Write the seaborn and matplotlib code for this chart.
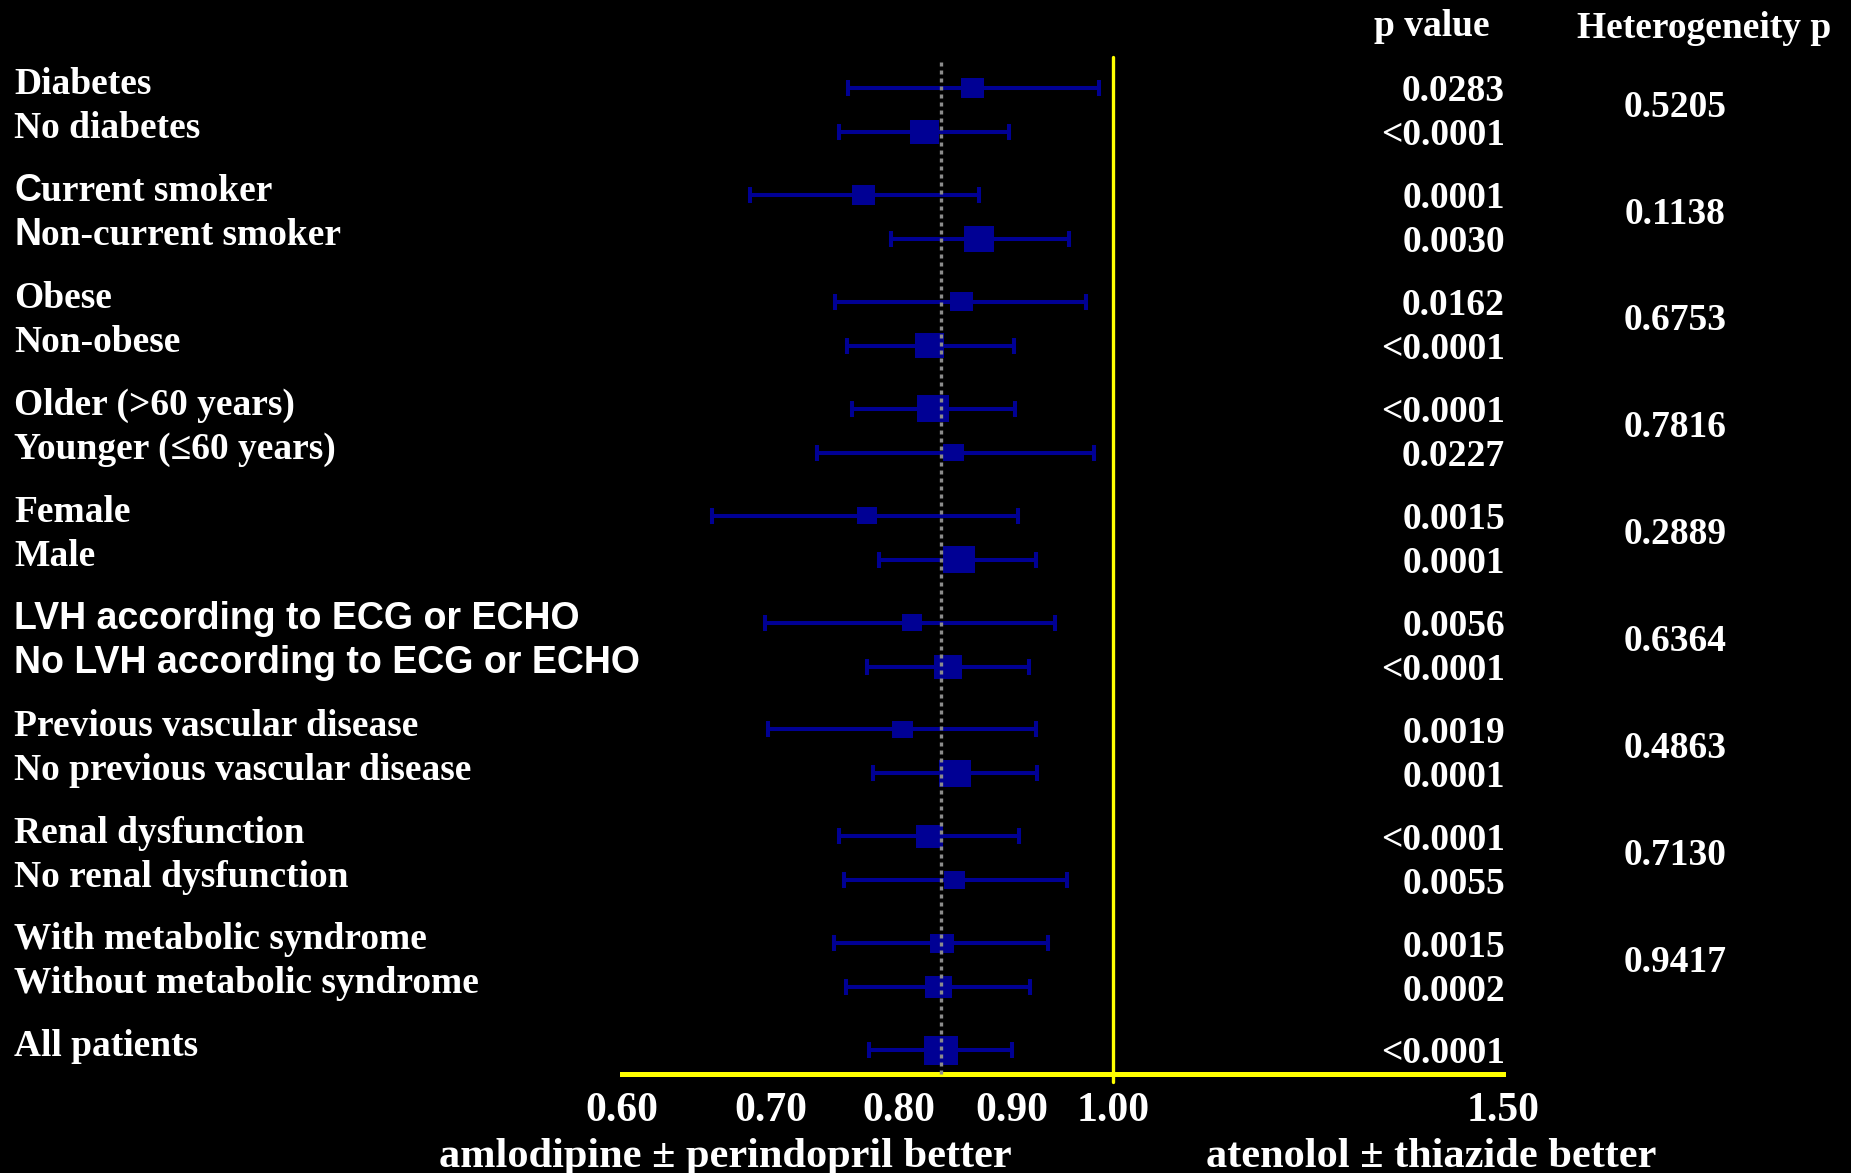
import numpy as np
import pandas as pd
import matplotlib
matplotlib.use("Agg")
import matplotlib.pyplot as plt
import seaborn as sns
from matplotlib.path import Path
from matplotlib.markers import MarkerStyle
from matplotlib.ticker import FixedLocator, NullLocator

# 数据
labels = [
    "Diabetes", "No diabetes",
    "Current smoker", "Non-current smoker",
    "Obese", "Non-obese",
    "Older (>60 years)", "Younger (\u226460 years)",
    "Female", "Male",
    "LVH according to ECG or ECHO", "No LVH according to ECG or ECHO",
    "Previous vascular disease", "No previous vascular disease",
    "Renal dysfunction", "No renal dysfunction",
    "With metabolic syndrome", "Without metabolic syndrome",
    "All patients",
]
group = [0, 0, 1, 1, 2, 2, 3, 3, 4, 4, 5, 5, 6, 6, 7, 7, 8, 8, 9]
hr = [0.864, 0.822, 0.771, 0.870, 0.854, 0.826, 0.829, 0.847, 0.774, 0.852,
      0.811, 0.842, 0.803, 0.848, 0.826, 0.848, 0.837, 0.834, 0.836]
ci_low = [0.759, 0.752, 0.685, 0.794, 0.749, 0.758, 0.762, 0.735, 0.659, 0.784,
          0.696, 0.774, 0.698, 0.779, 0.752, 0.756, 0.748, 0.757, 0.776]
ci_high = [0.985, 0.897, 0.870, 0.955, 0.972, 0.902, 0.903, 0.980, 0.906, 0.923,
           0.941, 0.916, 0.923, 0.924, 0.907, 0.953, 0.934, 0.917, 0.900]
weight = [0.44, 0.71, 0.44, 0.76, 0.44, 0.73, 0.84, 0.36, 0.36, 0.88,
          0.33, 0.69, 0.36, 0.88, 0.65, 0.38, 0.46, 0.59, 1.00]
p_values = ["0.0283", "<0.0001", "0.0001", "0.0030", "0.0162", "<0.0001",
            "<0.0001", "0.0227", "0.0015", "0.0001", "0.0056", "<0.0001",
            "0.0019", "0.0001", "<0.0001", "0.0055", "0.0015", "0.0002",
            "<0.0001"]
het_p = ["0.5205", "0.1138", "0.6753", "0.7816", "0.2889",
         "0.6364", "0.4863", "0.7130", "0.9417"]
tick_values = [0.60, 0.70, 0.80, 0.90, 1.00, 1.50]
tick_labels = ["0.60", "0.70", "0.80", "0.90", "1.00", "1.50"]
left_label = "amlodipine \u00b1 perindopril better"
right_label = "atenolol \u00b1 thiazide better"

# 样式
BLUE = "#000094"
YELLOW = "#ffff00"
SERIF = ["Liberation Serif", "DejaVu Serif"]
SANS = ["Liberation Sans", "DejaVu Sans"]

sns.set_theme(style="dark", rc={"axes.facecolor": "black",
                                "figure.facecolor": "black",
                                "savefig.facecolor": "black"})
plt.rcParams["font.family"] = SERIF
plt.rcParams["font.weight"] = "bold"

# 行位置
df = pd.DataFrame({"label": labels, "group": group, "hr": hr,
                   "lo": ci_low, "hi": ci_high, "weight": weight, "p": p_values})
df["k"] = df.groupby("group").cumcount()
df["pos"] = df["group"] * 2.43 + df["k"]

fig = plt.figure(figsize=(18.51, 11.73), dpi=100)
ax = fig.add_axes([0, 0, 1, 1])
ax.set_xscale("log")
ax.set_xlim(0.314, 2.155)
ax.set_ylim(24.66, -2.0)
ax.grid(False)

# 参考线
base_y = 22.41
ax.plot([1.0, 1.0], [-0.70, 22.6], color=YELLOW, lw=2.4, zorder=1)
overall = df["hr"].iloc[-1]
ax.plot([overall, overall], [-0.59, base_y], color="#8c8c8c", lw=2.4,
        linestyle=(0, (1.2, 1.2)), zorder=4)

# 置信区间
ax.errorbar(df["hr"], df["pos"], xerr=[df["hr"] - df["lo"], df["hi"] - df["hr"]],
            fmt="none", ecolor=BLUE, elinewidth=2.9, capsize=6.1, capthick=2.9,
            zorder=2)

# 方块
rect = Path([(-0.5, -0.42), (0.5, -0.42), (0.5, 0.42), (-0.5, 0.42), (-0.5, -0.42)],
            [Path.MOVETO, Path.LINETO, Path.LINETO, Path.LINETO, Path.CLOSEPOLY])
sns.scatterplot(data=df, x="hr", y="pos", size="weight", size_norm=(0, 1),
                sizes=(0, (34.5 * 0.72) ** 2), marker=MarkerStyle(rect),
                color=BLUE, linewidth=0, legend=False, ax=ax, zorder=3)

# x 轴
for side in ["top", "left", "right"]:
    ax.spines[side].set_visible(False)
ax.spines["bottom"].set_position(("data", base_y))
ax.spines["bottom"].set_bounds(0.6, 1.5)
ax.spines["bottom"].set_color(YELLOW)
ax.spines["bottom"].set_linewidth(3.6)
ax.spines["bottom"].set_zorder(1)
ax.xaxis.set_major_locator(FixedLocator(tick_values))
ax.xaxis.set_minor_locator(NullLocator())
ax.set_xticklabels(tick_labels)
ax.tick_params(axis="x", length=0, pad=13, labelsize=30, labelcolor="white")
for t in ax.get_xticklabels():
    t.set_fontweight("bold")
ax.set_yticks([])
ax.set_xlabel("")
ax.set_ylabel("")

tr = ax.get_yaxis_transform()

# 左侧标签
for _, r in df.iterrows():
    y = r["pos"] + 0.14
    lab = r["label"]
    if lab.startswith("LVH") or lab.startswith("No LVH"):
        ax.text(0.0076, y, lab, transform=tr, family=SANS, fontsize=27,
                fontweight="bold", color="white", va="baseline", ha="left")
    elif lab in ("Current smoker", "Non-current smoker"):
        first = ax.text(0.0076, y, lab[0], transform=tr, family=SANS, fontsize=27,
                        fontweight="bold", color="white", va="baseline", ha="left")
        ax.annotate(lab[1:], xy=(1, 0), xycoords=first, family=SERIF, fontsize=27,
                    fontweight="bold", color="white", va="bottom", ha="left")
    else:
        ax.text(0.0076, y, lab, transform=tr, fontsize=27, fontweight="bold",
                color="white", va="baseline", ha="left")
    ax.text(0.8131, r["pos"] + 0.30, r["p"], transform=tr, fontsize=27,
            fontweight="bold", color="white", va="baseline", ha="right")

# 异质性 p 值
for g, val in enumerate(het_p):
    y = df.loc[df["group"] == g, "pos"].mean() + 0.15
    ax.text(0.905, y, val, transform=tr, fontsize=27, fontweight="bold",
            color="white", va="baseline", ha="center")

# 表头
ax.text(0.7736, -1.18, "p value", transform=tr, fontsize=27, fontweight="bold",
        color="white", va="baseline", ha="center")
ax.text(0.9206, -1.13, "Heterogeneity p", transform=tr, fontsize=27,
        fontweight="bold", color="white", va="baseline", ha="center")

# 底部说明
ax.text(0.3917, 24.52, left_label, transform=tr, fontsize=30.5, fontweight="bold",
        color="white", va="baseline", ha="center")
ax.text(0.7731, 24.52, right_label, transform=tr, fontsize=30.5, fontweight="bold",
        color="white", va="baseline", ha="center")

fig.savefig("out.png", dpi=100, facecolor="black")
plt.close(fig)
